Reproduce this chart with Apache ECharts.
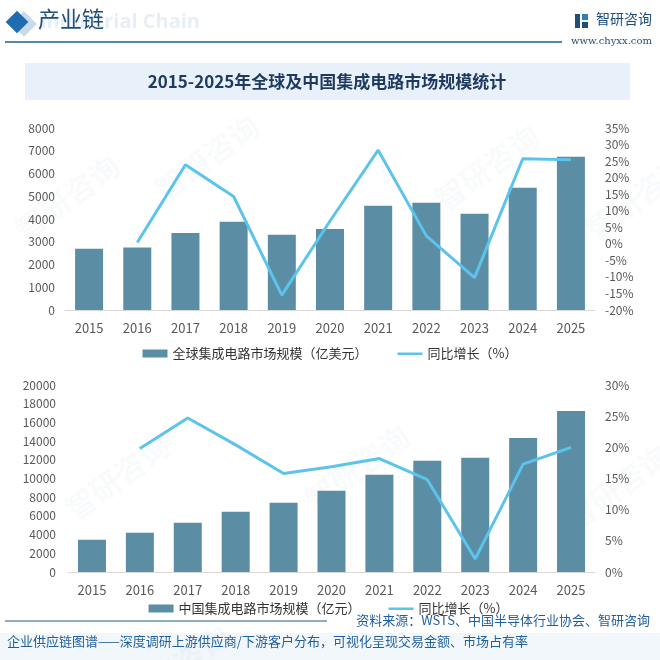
<!DOCTYPE html>
<html><head><meta charset="utf-8">
<script src="https://cdn.jsdelivr.net/npm/echarts@6/dist/echarts.min.js"></script>
<style>html,body{margin:0;padding:0;background:#fff}#c{width:660px;height:660px}</style>
</head><body><div id="c"></div>
<script>
const years = ['2015','2016','2017','2018','2019','2020','2021','2022','2023','2024','2025'];
const globalSize = [2690, 2745, 3390, 3875, 3305, 3565, 4580, 4710, 4230, 5370, 6740];
const globalGrowth = ['-', 0.4, 23.9, 14.3, -15.5, 6.9, 28.3, 2.4, -10.2, 25.7, 25.4];
const chinaSize = [3450, 4200, 5265, 6440, 7400, 8680, 10390, 11890, 12210, 14340, 17220];
const chinaGrowth = ['-', 19.8, 24.7, 20.4, 15.8, 16.9, 18.2, 14.8, 2.1, 17.3, 20.0];
const leftTicksTop = {min:0, max:8000, interval:1000};
const rightTicksTop = {min:-20, max:35, interval:5};
const leftTicksBot = {min:0, max:20000, interval:2000};
const rightTicksBot = {min:0, max:30, interval:5};

const FONT = '"Noto Sans CJK SC", "Noto Sans", sans-serif';
const BAR = '#5b8da5';
const LINE = '#5cc4ec';
const axisLabel = {color:'#595959', fontSize:12, fontFamily:FONT};
const LINE_ICON = 'path://M0,0L0.01,0M0,3L25,3L25,5.5L0,5.5ZM0,8L0.01,8';

const chart = echarts.init(document.getElementById('c'));

function wm(x,y){
  return {type:'text', left:x, top:y, rotation:Math.PI/5, silent:true, z:0,
    style:{text:'智研咨询', fill:'rgba(120,150,180,0.05)', font:'bold 30px '+FONT}};
}
const plain = v => String(v);

chart.setOption({
  backgroundColor:'#fff',
  textStyle:{fontFamily:FONT},
  graphic:[
    wm(10,150), wm(150,110), wm(430,120), wm(580,150), wm(60,430), wm(300,420), wm(560,440), wm(120,620),
    {type:'text', left:40, top:12, silent:true, style:{text:'Industrial Chain', fill:'rgba(60,120,180,0.12)', font:'bold 20px "Open Sans", sans-serif'}},
    {type:'rect', shape:{x:-9,y:-9,width:18,height:18}, x:24, y:24, rotation:Math.PI/4, style:{fill:'rgba(31,111,178,0.25)'}, silent:true},
    {type:'rect', shape:{x:-8,y:-8,width:16,height:16}, x:17, y:22, rotation:Math.PI/4, style:{fill:'#1f6db0'}, silent:true},
    {type:'text', left:38, top:8, style:{text:'产业链', fill:'#1f4e79', font:'22px '+FONT}},
    {type:'line', shape:{x1:5,y1:42,x2:562,y2:42}, style:{stroke:'#1f5f8b', lineWidth:1.5}},
    {type:'rect', shape:{x:575,y:14,width:5,height:14}, style:{fill:'#1f4e79'}},
    {type:'rect', shape:{x:582,y:14,width:6,height:6}, style:{fill:'#2a7fc0'}},
    {type:'rect', shape:{x:582,y:22,width:6,height:6}, style:{fill:'#1f4e79'}},
    {type:'text', left:596, top:12, style:{text:'智研咨询', fill:'#1f4e79', font:'14px '+FONT}},
    {type:'text', left:571, top:36, style:{text:'www.chyxx.com', fill:'#1f4e79', font:'10px "DejaVu Serif", serif'}},
    {type:'rect', shape:{x:25,y:63,width:605,height:37}, style:{fill:'#e8f1f9'}},
    {type:'text', x:327, y:82, style:{text:'2015-2025年全球及中国集成电路市场规模统计', fill:'#1f3a5f', font:'bold 17px '+FONT, align:'center', verticalAlign:'middle'}},
    {type:'line', shape:{x1:5,y1:621,x2:327,y2:621}, style:{stroke:'#1f5f8b', lineWidth:1.2}},
    {type:'text', right:10, top:614, style:{text:'资料来源：WSTS、中国半导体行业协会、智研咨询', fill:'#1f5f9f', font:'13px '+FONT}},
    {type:'rect', shape:{x:0,y:633,width:660,height:27}, style:{fill:'#f2f7fb'}, z:-1},
    {type:'text', left:7, top:635, style:{text:'企业供应链图谱——深度调研上游供应商/下游客户分布，可视化呈现交易金额、市场占有率', fill:'#1f5f9f', font:'13px '+FONT}}
  ],
  legend:[
    {top:342, left:'center', itemWidth:25, itemHeight:8, itemGap:30, textStyle:{color:'#333', fontSize:13, fontFamily:FONT},
     data:[{name:'全球集成电路市场规模（亿美元）', icon:'rect'},{name:'同比增长（%）', icon:LINE_ICON}]},
    {top:597, left:'center', itemWidth:25, itemHeight:8, itemGap:28, textStyle:{color:'#333', fontSize:13, fontFamily:FONT},
     data:[{name:'中国集成电路市场规模（亿元）', icon:'rect'},{name:'同比增长（%） ', icon:LINE_ICON}]}
  ],
  grid:[
    {left:65, right:65, top:128, height:182},
    {left:68, right:65, top:385, height:187}
  ],
  xAxis:[
    {type:'category', gridIndex:0, data:years, axisTick:{show:false}, axisLine:{lineStyle:{color:'#d9d9d9'}}, axisLabel:Object.assign({},axisLabel,{margin:12, fontSize:13})},
    {type:'category', gridIndex:1, data:years, axisTick:{show:false}, axisLine:{lineStyle:{color:'#d9d9d9'}}, axisLabel:Object.assign({},axisLabel,{margin:12, fontSize:13})}
  ],
  yAxis:[
    Object.assign({type:'value', gridIndex:0, splitLine:{show:false}, axisLine:{show:false}, axisTick:{show:false}, axisLabel:Object.assign({},axisLabel,{margin:10, formatter:plain})}, leftTicksTop),
    Object.assign({type:'value', gridIndex:0, position:'right', splitLine:{show:false}, axisLine:{show:false}, axisTick:{show:false}, axisLabel:Object.assign({},axisLabel,{margin:10, formatter:'{value}%'})}, rightTicksTop),
    Object.assign({type:'value', gridIndex:1, splitLine:{show:false}, axisLine:{show:false}, axisTick:{show:false}, axisLabel:Object.assign({},axisLabel,{margin:12, formatter:plain})}, leftTicksBot),
    Object.assign({type:'value', gridIndex:1, position:'right', splitLine:{show:false}, axisLine:{show:false}, axisTick:{show:false}, axisLabel:Object.assign({},axisLabel,{margin:10, formatter:'{value}%'})}, rightTicksBot)
  ],
  series:[
    {name:'全球集成电路市场规模（亿美元）', type:'bar', xAxisIndex:0, yAxisIndex:0, data:globalSize, barWidth:28, itemStyle:{color:BAR}},
    {name:'同比增长（%）', type:'line', xAxisIndex:0, yAxisIndex:1, data:globalGrowth, symbol:'none', lineStyle:{color:LINE, width:3}, itemStyle:{color:LINE}},
    {name:'中国集成电路市场规模（亿元）', type:'bar', xAxisIndex:1, yAxisIndex:2, data:chinaSize, barWidth:28, itemStyle:{color:BAR}},
    {name:'同比增长（%） ', type:'line', xAxisIndex:1, yAxisIndex:3, data:chinaGrowth, symbol:'none', lineStyle:{color:LINE, width:3}, itemStyle:{color:LINE}}
  ]
});
</script></body></html>
